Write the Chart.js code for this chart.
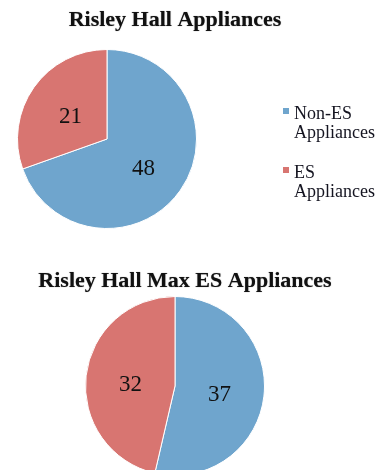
<!DOCTYPE html>
<html>
<head>
<meta charset="utf-8">
<script src="https://cdn.jsdelivr.net/npm/chart.js@4.4.0/dist/chart.umd.min.js"></script>
<style>
  body { margin: 0; width: 391px; height: 470px; overflow: hidden; background: #fff; position: relative; }
  .caja { position: absolute; left: 0; width: 391px; height: 240px; }
</style>
</head>
<body>
<div class="caja" style="top:0px;"><canvas id="pie1"></canvas></div>
<div class="caja" style="top:240px;"><canvas id="pie2"></canvas></div>
<script>
const categorias = ["Non-ES Appliances", "ES Appliances"];
const leyendaTexto = [["Non-ES", "Appliances"], ["ES", "Appliances"]];
const actual = [48, 21];
const maxES = [37, 32];
const titulos = ["Risley Hall Appliances", "Risley Hall Max ES Appliances"];
const colores = ["#6fa5cd", "#d87571"];
const fuente = "'Liberation Serif', 'Times New Roman', serif";

// numbers inside the slices, title and legend
const textos = {
  id: "textos",
  afterDraw(chart, args, opts) {
    const ctx = chart.ctx;
    const datos = chart.data.datasets[0].data;
    ctx.save();
    ctx.font = "23px " + fuente;
    ctx.fillStyle = "#111";
    ctx.textAlign = "center";
    ctx.textBaseline = "alphabetic";
    chart.getDatasetMeta(0).data.forEach((arc, i) => {
      const p = arc.tooltipPosition();
      ctx.fillText(datos[i], p.x, p.y + 10);
    });

    // titulo
    ctx.font = "bold 22px " + fuente;
    ctx.shadowColor = "rgba(0,0,0,0.5)";
    ctx.shadowBlur = 1;
    ctx.fillText(opts.titulo, opts.tituloX, opts.tituloY);
    ctx.shadowBlur = 0;

    if (opts.leyenda) {
      ctx.font = "18px " + fuente;
      ctx.textAlign = "left";
      let y = 119;
      leyendaTexto.forEach((lineas, i) => {
        ctx.fillStyle = colores[i];
        ctx.fillRect(283, y - 11, 6, 6);
        ctx.fillStyle = "#141420";
        lineas.forEach(l => {
          ctx.fillText(l, 294, y);
          y += 19;
        });
        y += 21;
      });
    }
    ctx.restore();
  }
};

function crearPie(id, valores, padding, extra) {
  return new Chart(document.getElementById(id), {
    type: "pie",
    data: {
      labels: categorias,
      datasets: [{
        data: valores,
        backgroundColor: colores,
        borderColor: "#ffffff",
        borderWidth: 1
      }]
    },
    options: {
      responsive: true,
      maintainAspectRatio: false,
      animation: false,
      layout: { padding: padding },
      plugins: {
        legend: { display: false },
        tooltip: { enabled: false },
        textos: extra
      }
    },
    plugins: [textos]
  });
}

crearPie("pie1", actual, { left: 17, top: 49, right: 194, bottom: 11 },
  { titulo: titulos[0], tituloX: 175, tituloY: 26, leyenda: true });
crearPie("pie2", maxES, { left: 85, top: 56, right: 126, bottom: 4 },
  { titulo: titulos[1], tituloX: 185, tituloY: 47, leyenda: false });
</script>
</body>
</html>
